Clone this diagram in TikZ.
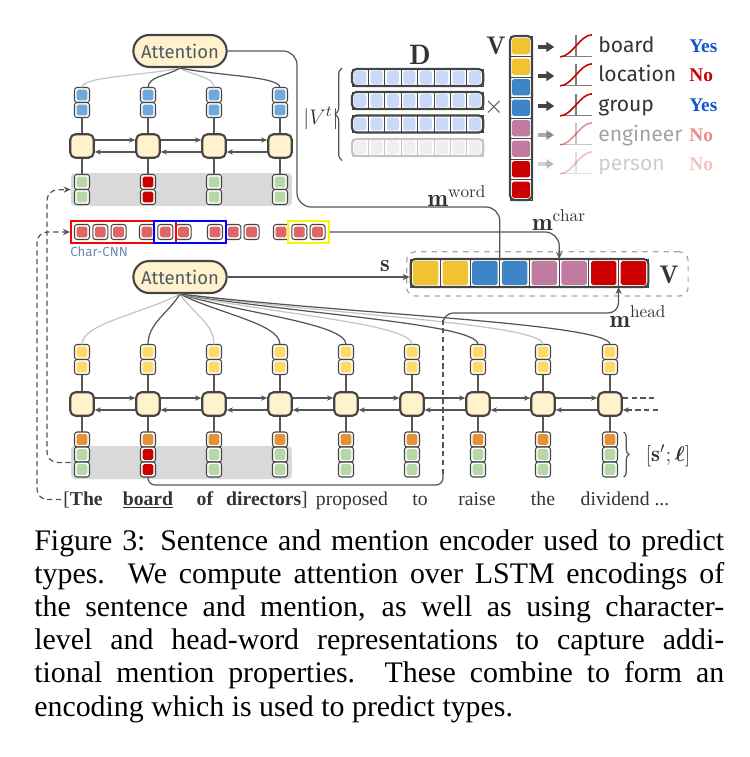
\documentclass[tikz,border=0pt]{standalone}
\usepackage{fontspec}
\usepackage{bm}
\usetikzlibrary{arrows.meta,shapes.misc,fit,decorations.pathreplacing,calc}
\newfontfamily\labfont{Fira Sans}
\newfontfamily\timesfont{Liberation Serif}

\definecolor{cream}{HTML}{FFF2CC}
\definecolor{edge}{HTML}{444444}
\definecolor{wiregray}{HTML}{555555}
\definecolor{faint}{HTML}{C4C4C4}
\definecolor{band}{HTML}{D9D9D9}
\definecolor{cblue}{HTML}{6FA8DC}
\definecolor{cgreen}{HTML}{B6D7A8}
\definecolor{cred}{HTML}{CC0000}
\definecolor{cchar}{HTML}{E06666}
\definecolor{cyel}{HTML}{FFD966}
\definecolor{corange}{HTML}{E69138}
\definecolor{vyel}{HTML}{F1C232}
\definecolor{vblue}{HTML}{3D85C6}
\definecolor{vmauve}{HTML}{C27BA0}
\definecolor{dblue}{HTML}{C9DAF8}
\definecolor{dgray}{HTML}{EFEFEF}
\definecolor{yesblue}{HTML}{1155CC}
\definecolor{attntext}{HTML}{505A66}
\definecolor{cnntext}{HTML}{6A88B0}

\tikzset{
  cell/.style={draw=edge, fill=white, line width=0.6pt, rounded corners=1.5pt,
    minimum size=0.3cm, inner sep=0pt, outer sep=0pt,
    path picture={\fill[#1, rounded corners=1pt]
      ([shift={(1.2pt,1.2pt)}]path picture bounding box.south west) rectangle
      ([shift={(-1.2pt,-1.2pt)}]path picture bounding box.north east);}},
  vcell/.style={draw=edge, fill=white, line width=0.5pt, inner sep=0pt, outer sep=0pt,
    path picture={\fill[#1, rounded corners=1pt]
      ([shift={(1.2pt,1.2pt)}]path picture bounding box.south west) rectangle
      ([shift={(-1.2pt,-1.2pt)}]path picture bounding box.north east);}},
  vframe/.style={draw=edge, line width=1.2pt, rounded corners=2.5pt, inner sep=0pt},
  lstm/.style={draw=edge, fill=cream, line width=1.2pt, rounded corners=3pt,
    minimum size=0.47cm, inner sep=0pt},
  attn/.style={rounded rectangle, draw=edge, fill=cream, line width=1.2pt,
    minimum width=2.1cm, minimum height=0.64cm, text=attntext,
    font=\labfont\fontsize{10.5}{12}\selectfont},
  wire/.style={draw=wiregray, line width=0.7pt},
  dimwire/.style={draw=faint, line width=0.7pt},
  rnn/.style={wire, -{Stealth[length=3.5pt,width=3pt]}},
  dashline/.style={wire, dash pattern=on 3pt off 2pt},
  win/.style={draw=#1, line width=1.1pt, inner sep=2pt},
  word/.style={anchor=base, inner sep=1pt, text=black!80,
    font=\timesfont\fontsize{11.2}{13}\selectfont},
  mlab/.style={anchor=base, inner sep=0pt, text=black!80,
    font=\fontsize{14}{16}\selectfont},
}

\begin{document}
\begin{tikzpicture}[x=0.02cm, y=-0.02cm]
\useasboundingbox (0,0) rectangle (750,757);

% mention encoder
\node[fill=band, rounded corners=2pt, minimum width=4.42cm, minimum height=0.66cm, inner sep=0pt] (mband) at (181.5,189.5) {};
\node[attn] (matt) at (180,51) {Attention};
\foreach \x/\c/\s [count=\i] in {82/cgreen/dimwire,148/cred/wire,214/cgreen/dimwire,280/cgreen/wire} {
  \node[cell=cblue] (mo\i) at (\x,95) {};
  \node[cell=cblue] (mp\i) at (\x,110) {};
  \node[lstm] (ml\i) at (\x,146) {};
  \node[cell=\c] (mx\i) at (\x,182) {};
  \node[cell=\c] (my\i) at (\x,197) {};
  \draw[wire] (mp\i) -- (ml\i);
  \draw[wire] (ml\i) -- (mx\i);
  \pgfmathsetmacro\ang{atan2(-20,\x-180)}
  \draw[\s] (matt.south) to[out=\ang,in=90,in distance=0.22cm] (mo\i.north);
}
\foreach \i/\j in {1/2,2/3,3/4} {
  \draw[rnn] ([yshift=3.4pt]ml\i.east) -- ([yshift=3.4pt]ml\j.west);
  \draw[rnn] ([yshift=-3.4pt]ml\j.west) -- ([yshift=-3.4pt]ml\i.east);
}

% characters
\foreach \x [count=\g] in {82,147,215,281}
  \foreach \k in {0,1,2}
    \node[cell=cchar] (ch\g\k) at (\x+18.3*\k,232) {};
\node[win=red, fit=(ch10)(ch21)] (redwin) {};
\node[win=blue, fit=(ch21)(ch30)] (bluewin) {};
\node[win=yellow, fit=(ch41)(ch42)] (yelwin) {};
\node[anchor=north west, inner sep=0pt, text=cnntext, font=\labfont\fontsize{7.5}{9}\selectfont] (cnnlab) at ([yshift=-1.5pt]redwin.south west) {Char-CNN};

% sentence encoder
\node[fill=band, rounded corners=2pt, minimum width=4.42cm, minimum height=0.66cm, inner sep=0pt] (sband) at (181.5,462.5) {};
\node[attn] (satt) at (180,277) {Attention};
\foreach \x/\c/\s [count=\i] in {82/cgreen/dimwire,148/cred/wire,214/cgreen/dimwire,280/cgreen/wire,346/cgreen/wire,412/cgreen/dimwire,478/cgreen/wire,543/cgreen/dimwire,610/cgreen/wire} {
  \node[cell=cyel] (so\i) at (\x,352) {};
  \node[cell=cyel] (sp\i) at (\x,367) {};
  \node[lstm] (sl\i) at (\x,404) {};
  \node[cell=corange] (sq\i) at (\x,439.5) {};
  \node[cell=\c] (sx\i) at (\x,454.5) {};
  \node[cell=\c] (sy\i) at (\x,469.5) {};
  \draw[wire] (sp\i) -- (sl\i);
  \draw[wire] (sl\i) -- (sq\i);
  \pgfmathsetmacro\ang{atan2(-51,\x-180)}
  \draw[\s] (satt.south) to[out=\ang,in=90,in distance=0.42cm] (so\i.north);
}
\foreach \i [evaluate=\i as \j using int(\i+1)] in {1,...,8} {
  \draw[rnn] ([yshift=3.4pt]sl\i.east) -- ([yshift=3.4pt]sl\j.west);
  \draw[rnn] ([yshift=-3.4pt]sl\j.west) -- ([yshift=-3.4pt]sl\i.east);
}
\draw[dashline] ([yshift=3.4pt]sl9.east) -- ++(35,0);
\draw[dashline, {Stealth[length=3.5pt,width=3pt]}-] ([yshift=-3.4pt]sl9.east) -- ++(35,0);
\draw[wire, decorate, decoration={brace, amplitude=3pt}] ([xshift=3.5pt]sq9.north east) -- ([xshift=3.5pt]sy9.south east);
\node[inner sep=0pt, text=black!80, font=\fontsize{13}{15}\selectfont] (slab) at (668,456) {$[\mathbf{s}';\bm{\ell}]$};

% sentence
\node[word] (w1) at (83,505) {[\textbf{The}};
\node[word] (w2) at (148,505) {\textbf{\underline{board}}};
\node[word] (w3) at (205,505) {\textbf{of}};
\node[word] (w4) at (267,505) {\textbf{directors}]};
\node[word] (w5) at (352,505) {proposed};
\node[word] (w6) at (420,505) {to};
\node[word] (w7) at (477,505) {raise};
\node[word] (w8) at (543,505) {the};
\node[word] (w9) at (625,505) {dividend ...};

\draw[dashline, rounded corners=6pt, -{Stealth[length=4pt,width=3.5pt]}] (sband.west) -| (47,190) -- (mband.west);
\draw[dashline, rounded corners=6pt, -{Stealth[length=4pt,width=3.5pt]}] (w1.west) -| (37,232) -- (redwin.west);

% combined vector
\foreach \c [count=\k] in {vyel,vyel,vblue,vblue,vmauve,vmauve,cred,cred}
  \node[vcell=\c, minimum width=0.594cm, minimum height=0.56cm] (vc\k) at (410.7+29.7*\k-14.85,273) {};
\node[vframe, fit=(vc1)(vc8)] (vbox) {};
\node[draw=gray!70, dashed, rounded corners=5pt, line width=0.7pt, minimum width=5.63cm, minimum height=0.886cm] (vzone) at (547.4,273.9) {};
\node[mlab, font=\fontsize{14.5}{16}\selectfont] (vlab) at (669,283) {$\mathbf{V}$};
\node[mlab] (slab2) at (385,271.5) {$\mathbf{s}$};
\node[mlab] (mwlab) at (457,206.5) {$\mathbf{m}^{\mathrm{word}}$};
\node[mlab] (mclab) at (559,230.5) {$\mathbf{m}^{\mathrm{char}}$};
\node[mlab] (mhlab) at (638,327) {$\mathbf{m}^{\mathrm{head}}$};

\draw[wire, -{Stealth[length=4pt,width=3.5pt]}] (satt.east) -- (satt.east -| vbox.west);
\draw[wire, rounded corners=8pt] (matt.east) -| (297,207) -| (vc4.north west);
\draw[wire, rounded corners=8pt, -{Stealth[length=4pt,width=3.5pt]}] (yelwin.east) -| (vc6.north west);
\draw[wire, rounded corners=4pt] (sy2.south) |- (443,485) -- (443,474);
\draw[dashline] (443,474) -- (443,320);
\draw[wire, rounded corners=6pt, -{Stealth[length=4pt,width=3.5pt]}] (443,320) -- (443,313) -| (vc8.south west);

% type embeddings
\node[mlab, font=\fontsize{16}{18}\selectfont] (dlab) at (420,65) {$\mathbf{D}$};
\foreach \y/\c/\e [count=\r] in {77.5/dblue/edge,100.5/dblue/edge,124/dblue/edge,147.5/dgray/faint} {
  \foreach \k in {1,...,8}
    \node[vcell=\c, draw=\e, minimum width=0.328cm, minimum height=0.34cm] (d\r\k) at (352+16.4*\k-8.2,\y) {};
  \node[vframe, draw=\e, fit=(d\r1)(d\r8)] (drow\r) {};
}
\draw[wire, decorate, decoration={brace, amplitude=4pt}] ([xshift=-5pt,yshift=-2pt]drow4.south west) -- ([xshift=-5pt]drow1.north west);
\node[inner sep=0pt, text=black!80, font=\fontsize{13}{15}\selectfont] (vtlab) at (321,118) {$|V^t|$};
\node[inner sep=0pt, text=edge, font=\fontsize{15}{17}\selectfont] (timeslab) at (494,107) {$\times$};

\foreach \c [count=\k] in {vyel,vyel,vblue,vblue,vmauve,vmauve,cred,cred}
  \node[vcell=\c, minimum width=0.44cm, minimum height=0.41cm] (vv\k) at (521,36+20.5*\k-10.25) {};
\node[vframe, fit=(vv1)(vv8)] (vvec) {};
\node[mlab, font=\fontsize{14.5}{16}\selectfont] (vtop) at (496,55) {$\mathbf{V}$};

\foreach \y/\t/\a/\ac/\op [count=\i] in {47/board/Yes/yesblue/1,76/location/No/cred/1,106/group/Yes/yesblue/1,135/engineer/No/cred/0.45,164/person/No/cred/0.25} {
  \begin{scope}[opacity=\op]
    \node[anchor=base west, inner sep=0pt, text=black!80, font=\labfont\fontsize{12}{14}\selectfont] (ty\i) at (598,\y+6) {\t};
    \node[anchor=base west, inner sep=0pt, text=\ac, font=\timesfont\bfseries\fontsize{11}{13}\selectfont] (ans\i) at (689,\y+6) {\a};
    \coordinate (sg\i) at (560,\y);
    \draw[edge, line width=2pt, -{Triangle[length=4.5pt,width=5.5pt]}] ([xshift=3pt]vvec.east |- sg\i) -- ++(16,0);
    \draw[gray, line width=0.6pt] ([yshift=-5.6pt]sg\i) -- ++(32,0) ++(-16,0) -- ++(0,-22);
    \draw[cred, line width=0.9pt] ([yshift=-5.6pt]sg\i) .. controls +(12,0) and +(-12,0) .. ++(32,-22);
  \end{scope}
}

% caption
\node[anchor=north west, inner sep=0pt, text width=13.8cm, align=justify, font=\timesfont\fontsize{17}{18.9}\selectfont] (caption) at (34,529) {Figure 3: Sentence and mention encoder used to predict\linebreak types. We compute attention over LSTM encodings of\linebreak the sentence and mention, as well as using character-\linebreak level and head-word representations to capture addi-\linebreak tional mention properties. These combine to form an\linebreak encoding which is used to predict types.};
\end{tikzpicture}
\end{document}
